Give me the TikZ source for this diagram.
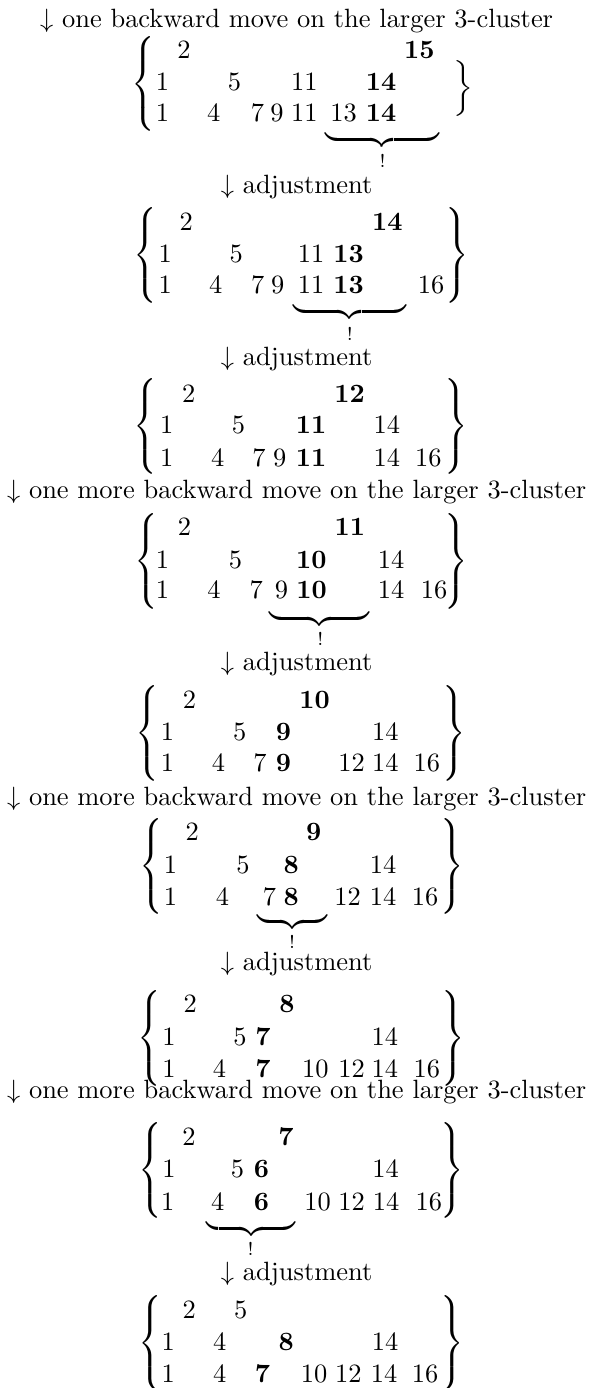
\documentclass[tikz,border=0pt]{standalone}
\delimiterfactor=1000
\delimitershortfall=0pt
\newcommand\numat[4]{\node[num] (#1) at (#2,#3) {#4};}
\newcommand\bnumat[4]{\node[num,font=\bfseries] (#1) at (#2,#3) {#4};}
\newcommand\lbr[3]{\node[dl,anchor=base west] (#1) at (#2,#3) {$\left\{\vrule height 20.5pt depth 15.5pt width 0pt\right.$};}
\newcommand\rbr[3]{\node[dl,anchor=base east] (#1) at (#2,#3) {$\left.\vrule height 20.5pt depth 15.5pt width 0pt\right\}$};}
\newcommand\ubr[4]{\node[dl,anchor=north] (#1) at (#2,#3) {\hbox to #4pt{\upbracefill}};}
\newcommand\excl[3]{\node[num] (#1) at (#2,#3) {$\scriptstyle !$};}
\tikzset{
  num/.style={inner sep=0pt,outer sep=0pt,anchor=base},
  dl/.style={inner sep=0pt,outer sep=0pt},
  stepline/.style={inner sep=0pt,outer sep=0pt,anchor=base}
}
\begin{document}
\begin{tikzpicture}[x=0.3782pt,y=-0.3782pt]
\useasboundingbox (0,0) rectangle (591,1388);
% line 1
\node[stepline] (t1) at (296.6,27) {$\downarrow$ one backward move on the larger 3-cluster};
% block 1
\lbr{b1L}{131.5}{90.5}
\node[dl,anchor=base east] (b1R) at (473,94) {\scalebox{1}[0.88]{$\biggr\}$}};
\numat{b1a}{184}{58.3}{2}
\bnumat{b1b}{419.3}{58.3}{15}
\numat{b1c}{162.6}{90.5}{1}
\numat{b1d}{234.6}{90.5}{5}
\numat{b1e}{304.3}{90.5}{11}
\bnumat{b1f}{381}{90.5}{14}
\numat{b1g}{162.6}{121.5}{1}
\numat{b1h}{213.7}{121.5}{4}
\numat{b1i}{257.5}{121.5}{7}
\numat{b1j}{277.1}{121.5}{9}
\numat{b1k}{304.3}{121.5}{11}
\numat{b1l}{343.6}{121.5}{13}
\bnumat{b1m}{381}{121.5}{14}
\ubr{u1}{382}{138}{43.1}
\excl{e1}{382.6}{167}
\node[stepline] (t2) at (296.6,193) {$\downarrow$ adjustment};
% block 2
\lbr{b2L}{133.7}{262}
\rbr{b2R}{469.4}{262}
\numat{b2a}{186.2}{230}{2}
\bnumat{b2b}{387.3}{230}{14}
\numat{b2c}{165.3}{262}{1}
\numat{b2d}{236.3}{262}{5}
\numat{b2e}{311}{262}{11}
\bnumat{b2f}{348.7}{262}{13}
\numat{b2g}{165.3}{293}{1}
\numat{b2h}{215.8}{293}{4}
\numat{b2i}{257.8}{293}{7}
\numat{b2j}{277.8}{293}{9}
\numat{b2k}{311}{293}{11}
\bnumat{b2l}{348.7}{293}{13}
\numat{b2m}{431}{293}{16}
\ubr{u2}{349.8}{310}{42.7}
\excl{e2}{349.8}{340}
\node[stepline] (t3) at (296.6,365) {$\downarrow$ adjustment};
% block 3
\lbr{b3L}{133.7}{433}
\rbr{b3R}{467.5}{433}
\numat{b3a}{188.8}{402}{2}
\bnumat{b3b}{349.6}{402}{12}
\numat{b3c}{166.8}{433}{1}
\numat{b3d}{238.4}{433}{5}
\bnumat{b3e}{311}{433}{11}
\numat{b3f}{386.9}{433}{14}
\numat{b3g}{166.8}{466}{1}
\numat{b3h}{217.7}{466}{4}
\numat{b3i}{259}{466}{7}
\numat{b3j}{279.7}{466}{9}
\bnumat{b3k}{311}{466}{11}
\numat{b3l}{386.9}{466}{14}
\numat{b3m}{428.4}{466}{16}
\node[stepline] (t4) at (296.6,498) {$\downarrow$ one more backward move on the larger 3-cluster};
% block 4
\lbr{b4L}{135}{568}
\rbr{b4R}{467.5}{568}
\numat{b4a}{184.5}{535}{2}
\bnumat{b4b}{349.8}{535}{11}
\numat{b4c}{162.6}{568}{1}
\numat{b4d}{235.6}{568}{5}
\bnumat{b4e}{311.3}{568}{10}
\numat{b4f}{391}{568}{14}
\numat{b4g}{162.6}{598}{1}
\numat{b4h}{213.9}{598}{4}
\numat{b4i}{256.3}{598}{7}
\numat{b4j}{281.6}{598}{9}
\bnumat{b4k}{311.7}{598}{10}
\numat{b4l}{391}{598}{14}
\numat{b4m}{434}{598}{16}
\ubr{u4}{319.5}{617}{37.8}
\excl{e4}{320.4}{645}
\node[stepline] (t5) at (296.6,670) {$\downarrow$ adjustment};
% block 5
\lbr{b5L}{135.6}{740}
\rbr{b5R}{465.6}{740}
\numat{b5a}{189.6}{708}{2}
\bnumat{b5b}{314.7}{708}{10}
\numat{b5c}{167.4}{740}{1}
\numat{b5d}{239.7}{740}{5}
\bnumat{b5e}{283.6}{740}{9}
\numat{b5f}{385.4}{740}{14}
\numat{b5g}{167.4}{771}{1}
\numat{b5h}{218.6}{771}{4}
\numat{b5i}{260.1}{771}{7}
\bnumat{b5j}{283.6}{771}{9}
\numat{b5k}{351.5}{771}{12}
\numat{b5l}{385.4}{771}{14}
\numat{b5m}{426.9}{771}{16}
\node[stepline] (t6) at (296.6,805) {$\downarrow$ one more backward move on the larger 3-cluster};
% block 6
\lbr{b6L}{139.3}{873}
\rbr{b6R}{463.7}{873}
\numat{b6a}{192.2}{840}{2}
\bnumat{b6b}{313.8}{840}{9}
\numat{b6c}{170.6}{873}{1}
\numat{b6d}{243.1}{873}{5}
\bnumat{b6e}{291.2}{873}{8}
\numat{b6f}{383.2}{873}{14}
\numat{b6g}{170.6}{905}{1}
\numat{b6h}{222.4}{905}{4}
\numat{b6i}{269.5}{905}{7}
\bnumat{b6j}{291.2}{905}{8}
\numat{b6k}{347.7}{905}{12}
\numat{b6l}{383.2}{905}{14}
\numat{b6m}{425}{905}{16}
\ubr{u6}{292.3}{920}{26.5}
\excl{e6}{292.1}{948}
\node[stepline] (t7) at (296.6,970) {$\downarrow$ adjustment};
% block 7
\lbr{b7L}{137.5}{1045}
\rbr{b7R}{464.9}{1045}
\numat{b7a}{190.3}{1012}{2}
\bnumat{b7b}{287}{1012}{8}
\numat{b7c}{169}{1045}{1}
\numat{b7d}{240.1}{1045}{5}
\bnumat{b7e}{262.9}{1045}{7}
\numat{b7f}{384.8}{1045}{14}
\numat{b7g}{169}{1077}{1}
\numat{b7h}{219.6}{1077}{4}
\bnumat{b7i}{262.9}{1077}{7}
\numat{b7j}{315.3}{1077}{10}
\numat{b7k}{351.5}{1077}{12}
\numat{b7l}{384.8}{1077}{14}
\numat{b7m}{426.9}{1077}{16}
\node[stepline] (t8) at (296.6,1098) {$\downarrow$ one more backward move on the larger 3-cluster};
% block 8
\lbr{b8L}{138}{1177}
\rbr{b8R}{463.7}{1177}
\numat{b8a}{189}{1145}{2}
\bnumat{b8b}{286}{1145}{7}
\numat{b8c}{169}{1177}{1}
\numat{b8d}{237.5}{1177}{5}
\bnumat{b8e}{261.5}{1177}{6}
\numat{b8f}{385.5}{1177}{14}
\numat{b8g}{167.7}{1210}{1}
\numat{b8h}{217.7}{1210}{4}
\bnumat{b8i}{261.4}{1210}{6}
\numat{b8j}{317.6}{1210}{10}
\numat{b8k}{351.5}{1210}{12}
\numat{b8l}{386}{1210}{14}
\numat{b8m}{428.8}{1210}{16}
\ubr{u8}{251.2}{1227}{33.7}
\excl{e8}{250.7}{1255}
\node[stepline] (t9) at (296.6,1280) {$\downarrow$ adjustment};
% block 9
\lbr{b9L}{138}{1350}
\rbr{b9R}{463.7}{1350}
\numat{b9a}{189.2}{1318}{2}
\numat{b9b}{240.8}{1318}{5}
\numat{b9c}{168.3}{1350}{1}
\numat{b9d}{219.7}{1350}{4}
\bnumat{b9e}{286.3}{1350}{8}
\numat{b9f}{385}{1350}{14}
\numat{b9g}{168.3}{1382}{1}
\numat{b9h}{219.7}{1382}{4}
\bnumat{b9i}{262.5}{1382}{7}
\numat{b9j}{314.2}{1382}{10}
\numat{b9k}{348.3}{1382}{12}
\numat{b9l}{384}{1382}{14}
\numat{b9m}{425}{1382}{16}
\end{tikzpicture}
\end{document}
